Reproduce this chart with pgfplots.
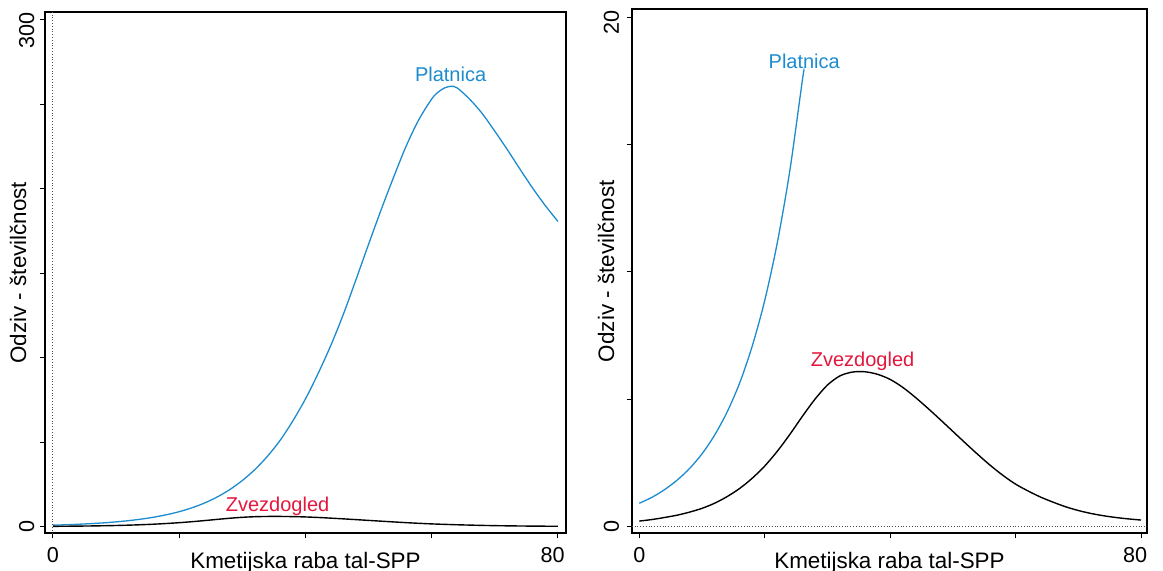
\documentclass[border=0pt]{standalone}
\usepackage{fontspec}
\setmainfont{Liberation Sans}
\usepackage{pgfplots}
\usepackage{pgfplotstable}
\pgfplotsset{compat=1.18}
\definecolor{pblue}{RGB}{28,140,206}
\definecolor{zred}{RGB}{228,22,60}

\pgfplotstableread{
x y
0 0.92
2 1.15
4 1.45
6 1.82
8 2.28
10 2.86
12 3.59
14 4.50
16 5.64
18 7.08
20 8.88
22 11.14
24 13.97
26 17.52
28 21.9
30 27.3
32 33.8
34 41.7
36 51.1
38 62.5
40 75.5
42 90.5
44 107
46 125.5
48 146
50 167
52 187.5
54 207
56 225.5
58 241
60 253
61 257
62 259.5
63 260.5
64 259.7
66 253
68 244.5
70 234
72 223
74 211.5
76 200.3
78 190
80 180.6
}\platnica

\pgfplotstableread{
x y
0 0.92
2 1.15
4 1.45
6 1.82
8 2.28
10 2.86
12 3.59
14 4.50
16 5.64
18 7.08
20 8.88
22 11.14
24 13.97
26 17.52
26.26 17.88
}\platnicacut

\pgfplotstableread{
x y
0 0.22
2 0.28
4 0.36
6 0.45
8 0.57
10 0.72
12 0.92
14 1.18
16 1.50
18 1.90
20 2.38
22 2.96
24 3.62
26 4.33
28 5.00
30 5.56
32 5.92
34 6.07
36 6.08
38 5.98
40 5.78
42 5.47
44 5.08
46 4.65
48 4.20
50 3.74
52 3.28
54 2.83
56 2.40
58 2.01
60 1.67
62 1.40
64 1.16
66 0.96
68 0.78
70 0.635
72 0.52
74 0.43
76 0.36
78 0.305
80 0.26
}\zvezdogled

\begin{document}
\begin{tikzpicture}
\useasboundingbox (0,0) rectangle (581.5pt,285pt);
\pgfplotsset{
  panel/.style={
    scale only axis,
    axis line style={line width=0.85pt},
    tick align=outside,
    tick pos=left,
    major tick length=2.5pt,
    tick style={line width=0.5pt, black},
    xtick={0,20,40,60},
    xticklabels={0,,,},
    extra x ticks={80},
    extra x tick labels={80},
    tick label style={font=\fontsize{10.8}{12}\selectfont},
    xticklabel style={anchor=base, yshift=-12.2pt, inner sep=0pt},
    every axis x label/.style={at={(axis description cs:0.5,0)}, anchor=base, yshift=-17.35pt, inner sep=0pt, font=\fontsize{11.2}{13}\selectfont},
    xlabel={Kmetijska raba tal-SPP},
    ylabel={Odziv - številčnost},
  }
}
% left panel
\begin{axis}[panel,
  at={(22.5pt,18.35pt)}, anchor=south west,
  width=260.5pt, height=260.65pt,
  xmin=-1.24, xmax=81.28, ymin=-3.9, ymax=304.5,
  ytick={0,50,100,150,200,250},
  yticklabels={0,,,,,},
  extra y ticks={300},
  extra y tick labels={300},
  yticklabel style={xshift=-3.0pt, rotate=90, anchor=base, inner sep=0pt},
  extra x tick style={xticklabel style={xshift=-2.6pt}},
  extra y tick style={yticklabel style={xshift=-5.4pt}},
  every axis y label/.style={at={(axis description cs:0,0.5)}, xshift=-9.5pt, rotate=90, anchor=base, inner sep=0pt, font=\fontsize{11.2}{13}\selectfont},
]
\addplot[densely dotted, line width=0.4pt, black!70] coordinates {(0,-3.9) (0,304.5)};
\addplot[pblue, line width=0.65pt, smooth] table[x=x,y=y] {\platnica};
\addplot[black, line width=0.7pt, smooth] table[x=x,y=y] {\zvezdogled};
\node[pblue, anchor=base, inner sep=0pt, font=\fontsize{10}{12}\selectfont] at (axis cs:63,263.4) {Platnica};
\node[zred, anchor=base, inner sep=0pt, font=\fontsize{10}{12}\selectfont] at (axis cs:35.6,8.9) {Zvezdogled};
\end{axis}
% right panel
\begin{axis}[panel,
  at={(315.85pt,18.35pt)}, anchor=south west,
  width=257.8pt, height=262.15pt,
  xmin=-1.21, xmax=81.0, ymin=-0.26, ymax=20.32,
  ytick={0,5,10,15},
  yticklabels={0,,,},
  extra y ticks={20},
  extra y tick labels={20},
  yticklabel style={xshift=-3.9pt, rotate=90, anchor=base, inner sep=0pt},
  extra x tick style={xticklabel style={xshift=-3pt}},
  extra y tick style={yticklabel style={xshift=-2.9pt}},
  every axis y label/.style={at={(axis description cs:0,0.5)}, xshift=-8.85pt, rotate=90, anchor=base, inner sep=0pt, font=\fontsize{11.2}{13}\selectfont},
]
\addplot[densely dotted, line width=0.4pt, black!70] coordinates {(-1.21,0) (81,0)};
\addplot[pblue, line width=0.65pt, smooth] table[x=x,y=y] {\platnicacut};
\addplot[black, line width=0.7pt, smooth] table[x=x,y=y] {\zvezdogled};
\node[pblue, anchor=base, inner sep=0pt, font=\fontsize{10}{12}\selectfont] at (axis cs:26.3,18.0) {Platnica};
\node[zred, anchor=base, inner sep=0pt, font=\fontsize{10}{12}\selectfont] at (axis cs:35.6,6.28) {Zvezdogled};
\end{axis}
\end{tikzpicture}
\end{document}
